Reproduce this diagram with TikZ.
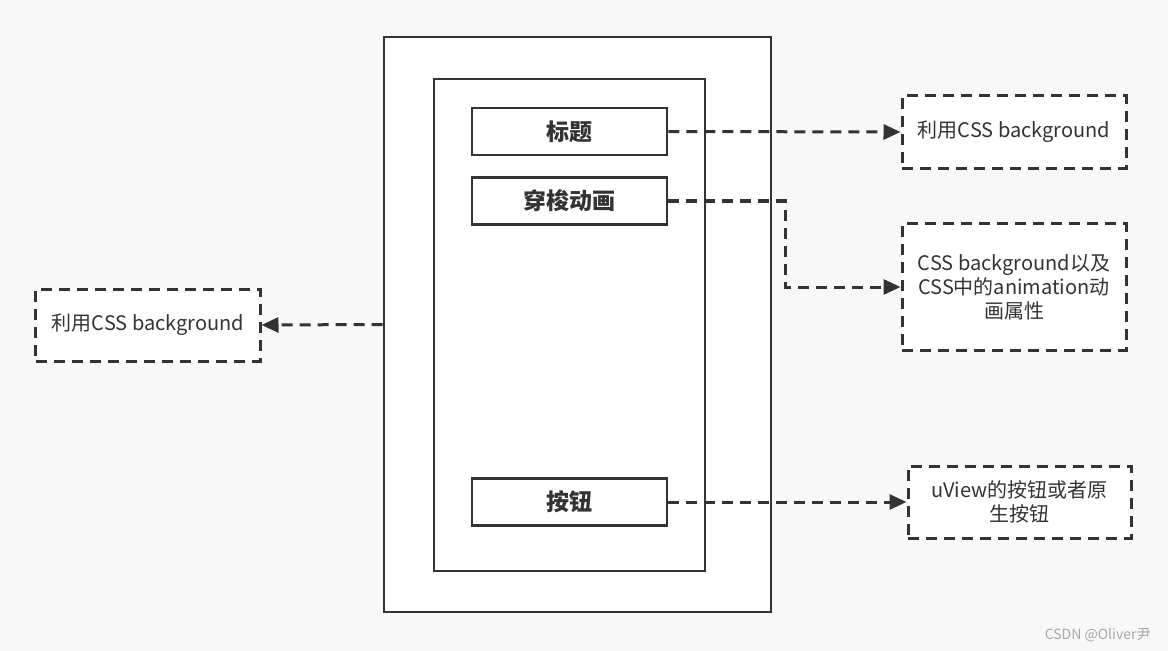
\documentclass[tikz,border=0pt]{standalone}
\usepackage{fontspec}
\setmainfont{Noto Sans CJK SC}
\usetikzlibrary{arrows.meta}
\definecolor{bg}{HTML}{F8F8F8}
\definecolor{ink}{HTML}{333333}
\begin{document}
\begin{tikzpicture}[x=1bp,y=-1bp,
  solidbox/.style={draw=ink,line width=2.6bp,fill=white,inner sep=0pt},
  dashbox/.style={draw=ink,line width=3bp,dash pattern=on 11bp off 7bp,fill=white,inner sep=0pt,align=center,font=\fontsize{20bp}{24bp}\selectfont,text=ink},
  titlebox/.style={solidbox,minimum width=195bp,minimum height=47bp,font=\fontsize{23bp}{26bp}\selectfont\bfseries,text=ink},
  conn/.style={draw=ink,line width=3bp,dash pattern=on 11bp off 7bp,-{Triangle[length=17bp,width=15bp]}}
]
\fill[bg] (0,0) rectangle (1168,651);
\useasboundingbox (0,0) rectangle (1168,651);
\node[solidbox,minimum width=387bp,minimum height=575bp] (outer) at (577.5,324.5) {};
\node[solidbox,minimum width=271bp,minimum height=492bp] (inner) at (569.5,325) {};
\node[titlebox] (t1) at (569.5,131.5) {标题};
\node[titlebox] (t2) at (569.5,201) {穿梭动画};
\node[titlebox] (t3) at (569.5,502) {按钮};
\node[dashbox,minimum width=224bp,minimum height=72bp] (r1) at (1014,132) {利用CSS background};
\node[dashbox,minimum width=224bp,minimum height=126bp] (r2) at (1014,287) {CSS background以及\\CSS中的animation动\\画属性};
\node[dashbox,minimum width=223bp,minimum height=72bp] (r3) at (1019.5,502) {uView的按钮或者原\\生按钮};
\node[dashbox,minimum width=224bp,minimum height=72bp] (l1) at (148,325) {利用CSS background};
\coordinate (bend1) at (785,201);
\coordinate (bend2) at (785,287);
\draw[conn] (t1.east) -- (r1.west);
\draw[conn] (t2.east) -- (bend1) -- (bend2) -- (r2.west);
\draw[conn] (t3.east) -- (r3.west);
\draw[conn] (outer.west) -- (l1.east);
\node[text=gray!70,font=\fontsize{14bp}{16bp}\selectfont,anchor=east] (wm) at (1154,635) {CSDN @Oliver尹};
\end{tikzpicture}
\end{document}
